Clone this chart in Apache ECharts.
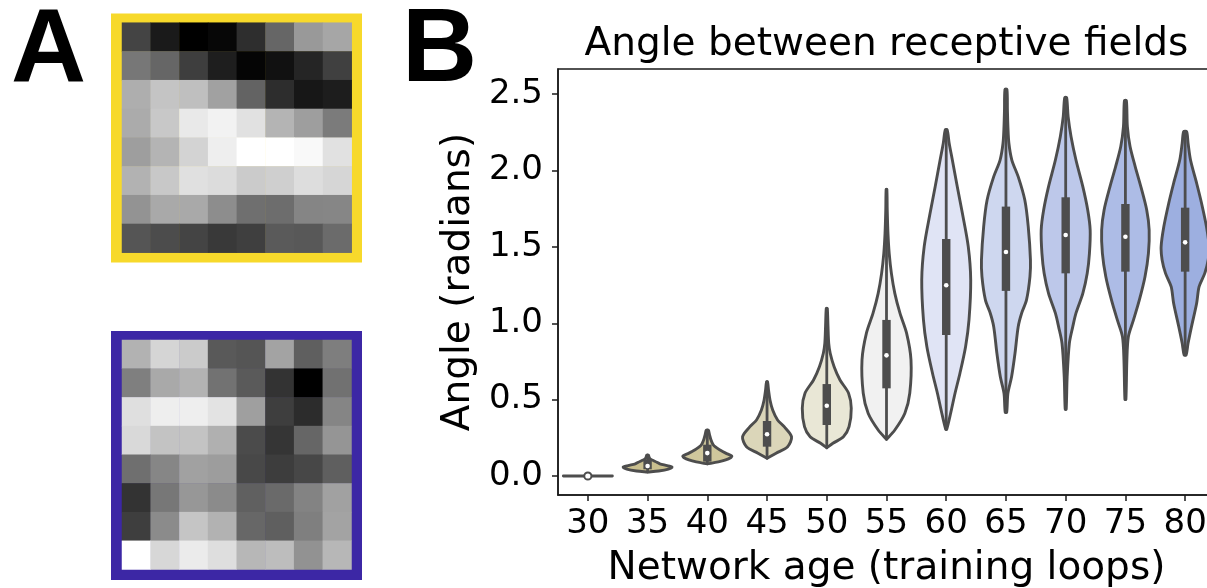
<!DOCTYPE html>
<html>
<head>
<meta charset="utf-8">
<script src="https://cdn.jsdelivr.net/npm/echarts@6/dist/echarts.min.js"></script>
<style>
  html, body { margin: 0; padding: 0; background: #fff; }
  #chart { width: 1207px; height: 588px; }
</style>
</head>
<body>
<div id="chart"></div>
<script>
// ---------- Panel A: two 8x8 receptive fields (grey level 0-255, rows top to bottom) ----------
const fieldYellow = [
  [68, 26, 0, 7, 46, 102, 153, 166],
  [119, 102, 62, 30, 5, 17, 37, 64],
  [174, 196, 191, 161, 99, 45, 23, 29],
  [171, 200, 233, 242, 225, 180, 158, 123],
  [158, 180, 211, 238, 255, 255, 249, 225],
  [178, 200, 224, 220, 203, 207, 221, 214],
  [147, 169, 169, 141, 111, 109, 133, 134],
  [85, 76, 68, 57, 63, 90, 88, 107]
];
const fieldPurple = [
  [178, 213, 203, 89, 85, 163, 95, 126],
  [127, 169, 179, 114, 90, 51, 0, 113],
  [223, 238, 238, 227, 159, 62, 44, 133],
  [217, 195, 195, 176, 75, 53, 102, 149],
  [111, 134, 161, 157, 72, 61, 71, 95],
  [51, 119, 151, 139, 96, 106, 131, 161],
  [62, 139, 197, 178, 103, 95, 127, 163],
  [255, 215, 235, 222, 183, 189, 146, 183]
];

// ---------- Panel B: angle between receptive fields per network age ----------
const ages = ['30', '35', '40', '45', '50', '55', '60', '65', '70', '75', '80'];

// Density outlines: [angle, relative half-width], from lowest to highest angle
const shape30 = [[0, 1.0]];
const shape35 = [[0.026, 0], [0.033, 0.45], [0.045, 0.85], [0.058, 1.0], [0.068, 0.8], [0.08, 0.5], [0.09, 0.38], [0.10, 0.25], [0.11, 0.12], [0.12, 0.07], [0.137, 0.03]];
const shape40 = [[0.079, 0], [0.092, 0.45], [0.105, 0.75], [0.12, 0.95], [0.131, 1.0], [0.15, 0.75], [0.17, 0.52], [0.19, 0.33], [0.21, 0.22], [0.24, 0.14], [0.27, 0.09], [0.30, 0.04]];
const shape45 = [[0.116, 0], [0.149, 0.37], [0.192, 0.84], [0.257, 1.0], [0.323, 0.7], [0.367, 0.43], [0.432, 0.23], [0.498, 0.12], [0.563, 0.06], [0.617, 0.02]];
const shape50 = [[0.185, 0], [0.214, 0.25], [0.257, 0.68], [0.323, 0.91], [0.443, 1.0], [0.542, 0.89], [0.629, 0.54], [0.716, 0.3], [0.804, 0.14], [0.869, 0.08], [0.978, 0.05], [1.098, 0.02]];
const shape55 = [[0.24, 0], [0.301, 0.34], [0.411, 0.75], [0.542, 0.95], [0.76, 1.0], [0.935, 0.82], [1.066, 0.55], [1.196, 0.34], [1.327, 0.2], [1.458, 0.11], [1.589, 0.06], [1.742, 0.03], [1.877, 0.015]];
const shape60 = [[0.306, 0.02], [0.411, 0.18], [0.542, 0.36], [0.673, 0.56], [0.847, 0.79], [1.022, 0.93], [1.284, 1.0], [1.502, 0.9], [1.72, 0.66], [1.895, 0.45], [2.069, 0.25], [2.179, 0.12], [2.266, 0.04]];
const shape65 = [[0.417, 0.03], [0.542, 0.08], [0.65, 0.23], [0.804, 0.37], [0.978, 0.5], [1.066, 0.64], [1.153, 0.84], [1.305, 0.98], [1.415, 1.0], [1.633, 0.91], [1.807, 0.77], [1.96, 0.5], [2.069, 0.24], [2.179, 0.12], [2.288, 0.08], [2.397, 0.06], [2.532, 0.04]];
const shape70 = [[0.437, 0.02], [0.65, 0.06], [0.869, 0.15], [0.978, 0.29], [1.066, 0.42], [1.196, 0.7], [1.327, 0.88], [1.458, 0.97], [1.611, 1.0], [1.742, 0.9], [1.895, 0.7], [2.069, 0.42], [2.222, 0.22], [2.353, 0.1], [2.477, 0.04]];
const shape75 = [[0.502, 0.02], [0.76, 0.06], [0.912, 0.12], [1.022, 0.33], [1.153, 0.57], [1.305, 0.8], [1.458, 0.94], [1.611, 0.97], [1.742, 0.87], [1.895, 0.63], [2.026, 0.4], [2.157, 0.19], [2.288, 0.08], [2.458, 0.04]];
const shape80 = [[0.792, 0.04], [0.869, 0.12], [0.978, 0.26], [1.131, 0.47], [1.24, 0.57], [1.327, 0.8], [1.415, 0.94], [1.502, 0.98], [1.633, 0.87], [1.786, 0.67], [1.917, 0.47], [2.069, 0.22], [2.179, 0.12], [2.255, 0.06]];
const violinShapes = [shape30, shape35, shape40, shape45, shape50, shape55, shape60, shape65, shape70, shape75, shape80];

// Box-plot summary inside each violin
const medians    = [0, 0.065, 0.15, 0.273, 0.46, 0.79, 1.249, 1.467, 1.578, 1.567, 1.530];
const quartile1  = [0, 0.044, 0.094, 0.192, 0.334, 0.574, 0.923, 1.212, 1.327, 1.338, 1.338];
const quartile3  = [0, 0.105, 0.205, 0.36, 0.602, 1.022, 1.552, 1.764, 1.825, 1.781, 1.757];
const whiskerLow = [0, 0.026, 0.08, 0.116, 0.185, 0.24, 0.306, 0.417, 0.437, 0.502, 0.792];
const whiskerHigh = [0, 0.137, 0.30, 0.617, 1.098, 1.877, 2.266, 2.532, 2.477, 2.458, 2.255];

const yTicks = [0, 0.5, 1.0, 1.5, 2.0, 2.5];

const violinFills = ['#ffffff', '#c9bf8e', '#cfc79c', '#dbd6b9', '#e9e7d6', '#f1f1f1', '#e0e4f5', '#ced7ef', '#bdc8ea', '#adbce6', '#9dafe0'];
const INK = '#4d4d4d';
const VIOLIN_HALF_WIDTH = 0.41; // fraction of the category band

function heatData(rows) {
  const out = [];
  rows.forEach((row, r) => row.forEach((v, c) => out.push([c, r, v])));
  return out;
}

function renderViolin(params, api) {
  const i = api.value(0);
  const cx = api.coord([i, 0])[0];
  const half = api.size([1, 0])[0] * VIOLIN_HALF_WIDTH;
  const yOf = v => api.coord([i, v])[1];
  const shape = violinShapes[i];
  const left = shape.map(([v, w]) => [cx - w * half, yOf(v)]);
  const right = shape.slice().reverse().map(([v, w]) => [cx + w * half, yOf(v)]);
  const raw = left.concat(right);
  const pts = raw.filter((p, k) => k === 0 ||
    Math.abs(p[0] - raw[k - 1][0]) > 0.01 || Math.abs(p[1] - raw[k - 1][1]) > 0.01);

  const children = [{
    type: 'polygon',
    shape: { points: pts, smooth: 0.3 },
    style: { fill: violinFills[i], stroke: INK, lineWidth: 2.9, lineJoin: 'round', lineCap: 'round' }
  }];
  if (whiskerHigh[i] > whiskerLow[i]) {
    children.push({
      type: 'line',
      shape: { x1: cx, y1: yOf(whiskerLow[i]), x2: cx, y2: yOf(whiskerHigh[i]) },
      style: { stroke: INK, lineWidth: 2.8, lineCap: 'round' }
    });
  }
  if (quartile3[i] > quartile1[i]) {
    const top = yOf(quartile3[i]);
    children.push({
      type: 'rect',
      shape: { x: cx - 4.2, y: top, width: 8.4, height: yOf(quartile1[i]) - top },
      style: { fill: INK }
    });
  }
  const lone = quartile3[i] <= quartile1[i];
  children.push({
    type: 'circle',
    shape: { cx: cx, cy: yOf(medians[i]), r: lone ? 3.6 : 2.3 },
    style: { fill: '#ffffff', stroke: lone ? INK : null, lineWidth: 2 }
  });
  return { type: 'group', children: children };
}

const chart = echarts.init(document.getElementById('chart'), null, { renderer: 'canvas' });

const axisInk = { color: '#1a1a1a', width: 1.5 };
const hiddenAxis = { show: false };

chart.setOption({
  animation: false,
  backgroundColor: '#ffffff',
  textStyle: { fontFamily: 'DejaVu Sans', color: '#000' },
  title: {
    text: 'Angle between receptive fields',
    left: 881.5,
    top: 20,
    textAlign: 'center',
    textStyle: { fontFamily: 'DejaVu Sans', fontSize: 39, fontWeight: 'normal', color: '#000' }
  },
  grid: [
    { left: 558, top: 69, width: 657, height: 426, outerBoundsMode: 'none', containLabel: false, show: true, borderColor: '#1a1a1a', borderWidth: 1.5, backgroundColor: 'transparent' },
    { left: 122, top: 22.7, width: 229.7, height: 230, outerBoundsMode: 'none' },
    { left: 122, top: 340, width: 229.5, height: 229.5, outerBoundsMode: 'none' }
  ],
  xAxis: [
    {
      gridIndex: 0,
      type: 'category',
      data: ages,
      boundaryGap: true,
      axisLine: { show: true, onZero: false, lineStyle: axisInk },
      axisTick: { show: true, alignWithLabel: true, length: 6, lineStyle: axisInk },
      axisLabel: { fontSize: 34, color: '#000', margin: 12, fontFamily: 'DejaVu Sans' },
      splitLine: { show: false },
      name: 'Network age (training loops)',
      nameLocation: 'middle',
      nameGap: 54,
      nameTextStyle: { fontSize: 39, color: '#000', fontFamily: 'DejaVu Sans' }
    },
    { gridIndex: 1, type: 'category', data: ['0','1','2','3','4','5','6','7'], ...hiddenAxis },
    { gridIndex: 2, type: 'category', data: ['0','1','2','3','4','5','6','7'], ...hiddenAxis }
  ],
  yAxis: [
    {
      gridIndex: 0,
      type: 'value',
      min: -0.1244,
      max: 2.665,
      axisLine: { show: true, onZero: false, lineStyle: axisInk },
      axisTick: { show: true, length: 6, lineStyle: axisInk, customValues: yTicks },
      axisLabel: {
        fontSize: 34, color: '#000', margin: 15, fontFamily: 'DejaVu Sans',
        customValues: yTicks,
        formatter: v => Number(v).toFixed(1)
      },
      splitLine: { show: false },
      name: 'Angle (radians)',
      nameLocation: 'middle',
      nameGap: 80,
      nameRotate: 90,
      nameTextStyle: { fontSize: 39, color: '#000', fontFamily: 'DejaVu Sans' }
    },
    { gridIndex: 1, type: 'category', inverse: true, data: ['0','1','2','3','4','5','6','7'], ...hiddenAxis },
    { gridIndex: 2, type: 'category', inverse: true, data: ['0','1','2','3','4','5','6','7'], ...hiddenAxis }
  ],
  visualMap: {
    show: false,
    type: 'continuous',
    min: 0,
    max: 255,
    seriesIndex: [1, 2],
    inRange: { color: ['#000000', '#ffffff'] }
  },
  graphic: [
    { type: 'rect', z: 0, shape: { x: 111, y: 13.5, width: 251, height: 249 }, style: { fill: '#f7d92b' } },
    { type: 'rect', z: 0, shape: { x: 111, y: 331, width: 251, height: 249 }, style: { fill: '#3c27a5' } },
    { type: 'text', z: 10, style: { text: 'A', x: 11, y: 52, font: 'bold 104px "Liberation Sans"', fill: '#000', align: 'left', verticalAlign: 'middle' } },
    { type: 'text', z: 10, style: { text: 'B', x: 402, y: 52, font: 'bold 104px "Liberation Sans"', fill: '#000', align: 'left', verticalAlign: 'middle' } }
  ],
  series: [
    {
      type: 'custom',
      xAxisIndex: 0,
      yAxisIndex: 0,
      renderItem: renderViolin,
      data: ages.map((a, i) => [i, medians[i]]),
      encode: { x: 0, y: 1 },
      clip: false,
      z: 3
    },
    {
      type: 'heatmap',
      xAxisIndex: 1,
      yAxisIndex: 1,
      data: heatData(fieldYellow),
      itemStyle: { borderWidth: 0 },
      emphasis: { disabled: true },
      z: 5
    },
    {
      type: 'heatmap',
      xAxisIndex: 2,
      yAxisIndex: 2,
      data: heatData(fieldPurple),
      itemStyle: { borderWidth: 0 },
      emphasis: { disabled: true },
      z: 5
    }
  ]
});
</script>
</body>
</html>
